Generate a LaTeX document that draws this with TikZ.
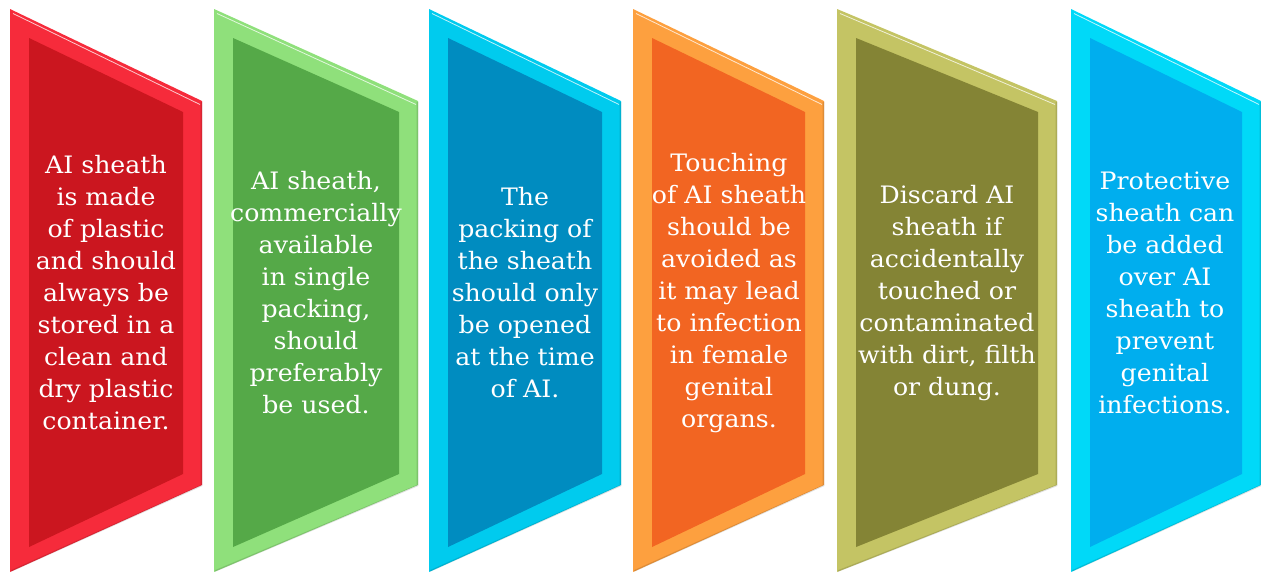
\documentclass[tikz,border=0pt]{standalone}
\usepackage{fontspec}
\setmainfont[FakeStretch=1.05]{DejaVu Serif}
\definecolor{redO}{HTML}{F62B3B}
\definecolor{redI}{HTML}{CB161F}
\definecolor{greenO}{HTML}{8FE07B}
\definecolor{greenI}{HTML}{55A948}
\definecolor{blueO}{HTML}{00CBEE}
\definecolor{blueI}{HTML}{008CC0}
\definecolor{orangeO}{HTML}{FDA03F}
\definecolor{orangeI}{HTML}{F26522}
\definecolor{oliveO}{HTML}{C4C464}
\definecolor{oliveI}{HTML}{848435}
\definecolor{cyanO}{HTML}{00D9F8}
\definecolor{cyanI}{HTML}{00AEEE}
\tikzset{
  paneltext/.style={text=white, align=center, inner sep=0pt,
    font=\fontsize{18}{24}\selectfont},
  highlight/.style={white, opacity=0.75, line width=0.6pt},
  shadowline/.style={black, opacity=0.12, line width=1.2pt}
}
\newcommand\drawpanel[4]{%
  \fill[#3] (#1,9) -- (#2,101) -- (#2,485) -- (#1,572) -- cycle;
  \fill[#4] (#1+19,38) -- (#2-19,112) -- (#2-19,474) -- (#1+19,547) -- cycle;
  \draw[highlight] (#1+3,13.5) -- (#2-2,104.5);
  \draw[shadowline] (#1+1,571) -- (#2-0.5,485.5) -- (#2-0.5,102);
}
\begin{document}
\begin{tikzpicture}[x=0.75pt,y=-0.75pt]
\useasboundingbox (0,0) rectangle (1261,572);
\drawpanel{10}{202}{redO}{redI}
\drawpanel{214}{418}{greenO}{greenI}
\drawpanel{429}{621}{blueO}{blueI}
\drawpanel{633}{824}{orangeO}{orangeI}
\drawpanel{837}{1057}{oliveO}{oliveI}
\drawpanel{1071}{1261}{cyanO}{cyanI}
\node[paneltext] (t1) at (106,293) {AI sheath\\is made\\of plastic\\and should\\always be\\stored in a\\clean and\\dry plastic\\container.};
\node[paneltext] (t2) at (316,293) {AI sheath,\\commercially\\available\\in single\\packing,\\should\\preferably\\be used.};
\node[paneltext] (t3) at (525,293) {The\\packing of\\the sheath\\should only\\be opened\\at the time\\of AI.};
\node[paneltext] (t4) at (729,293) {Touching\\of AI sheath\\should be\\avoided as\\it may lead\\to infection\\in female\\genital\\organs.};
\node[paneltext] (t5) at (947,293) {Discard AI\\sheath if\\accidentally\\touched or\\contaminated\\with dirt, filth\\or dung.};
\node[paneltext] (t6) at (1165,293) {Protective\\sheath can\\be added\\over AI\\sheath to\\prevent\\genital\\infections.};
\end{tikzpicture}
\end{document}
